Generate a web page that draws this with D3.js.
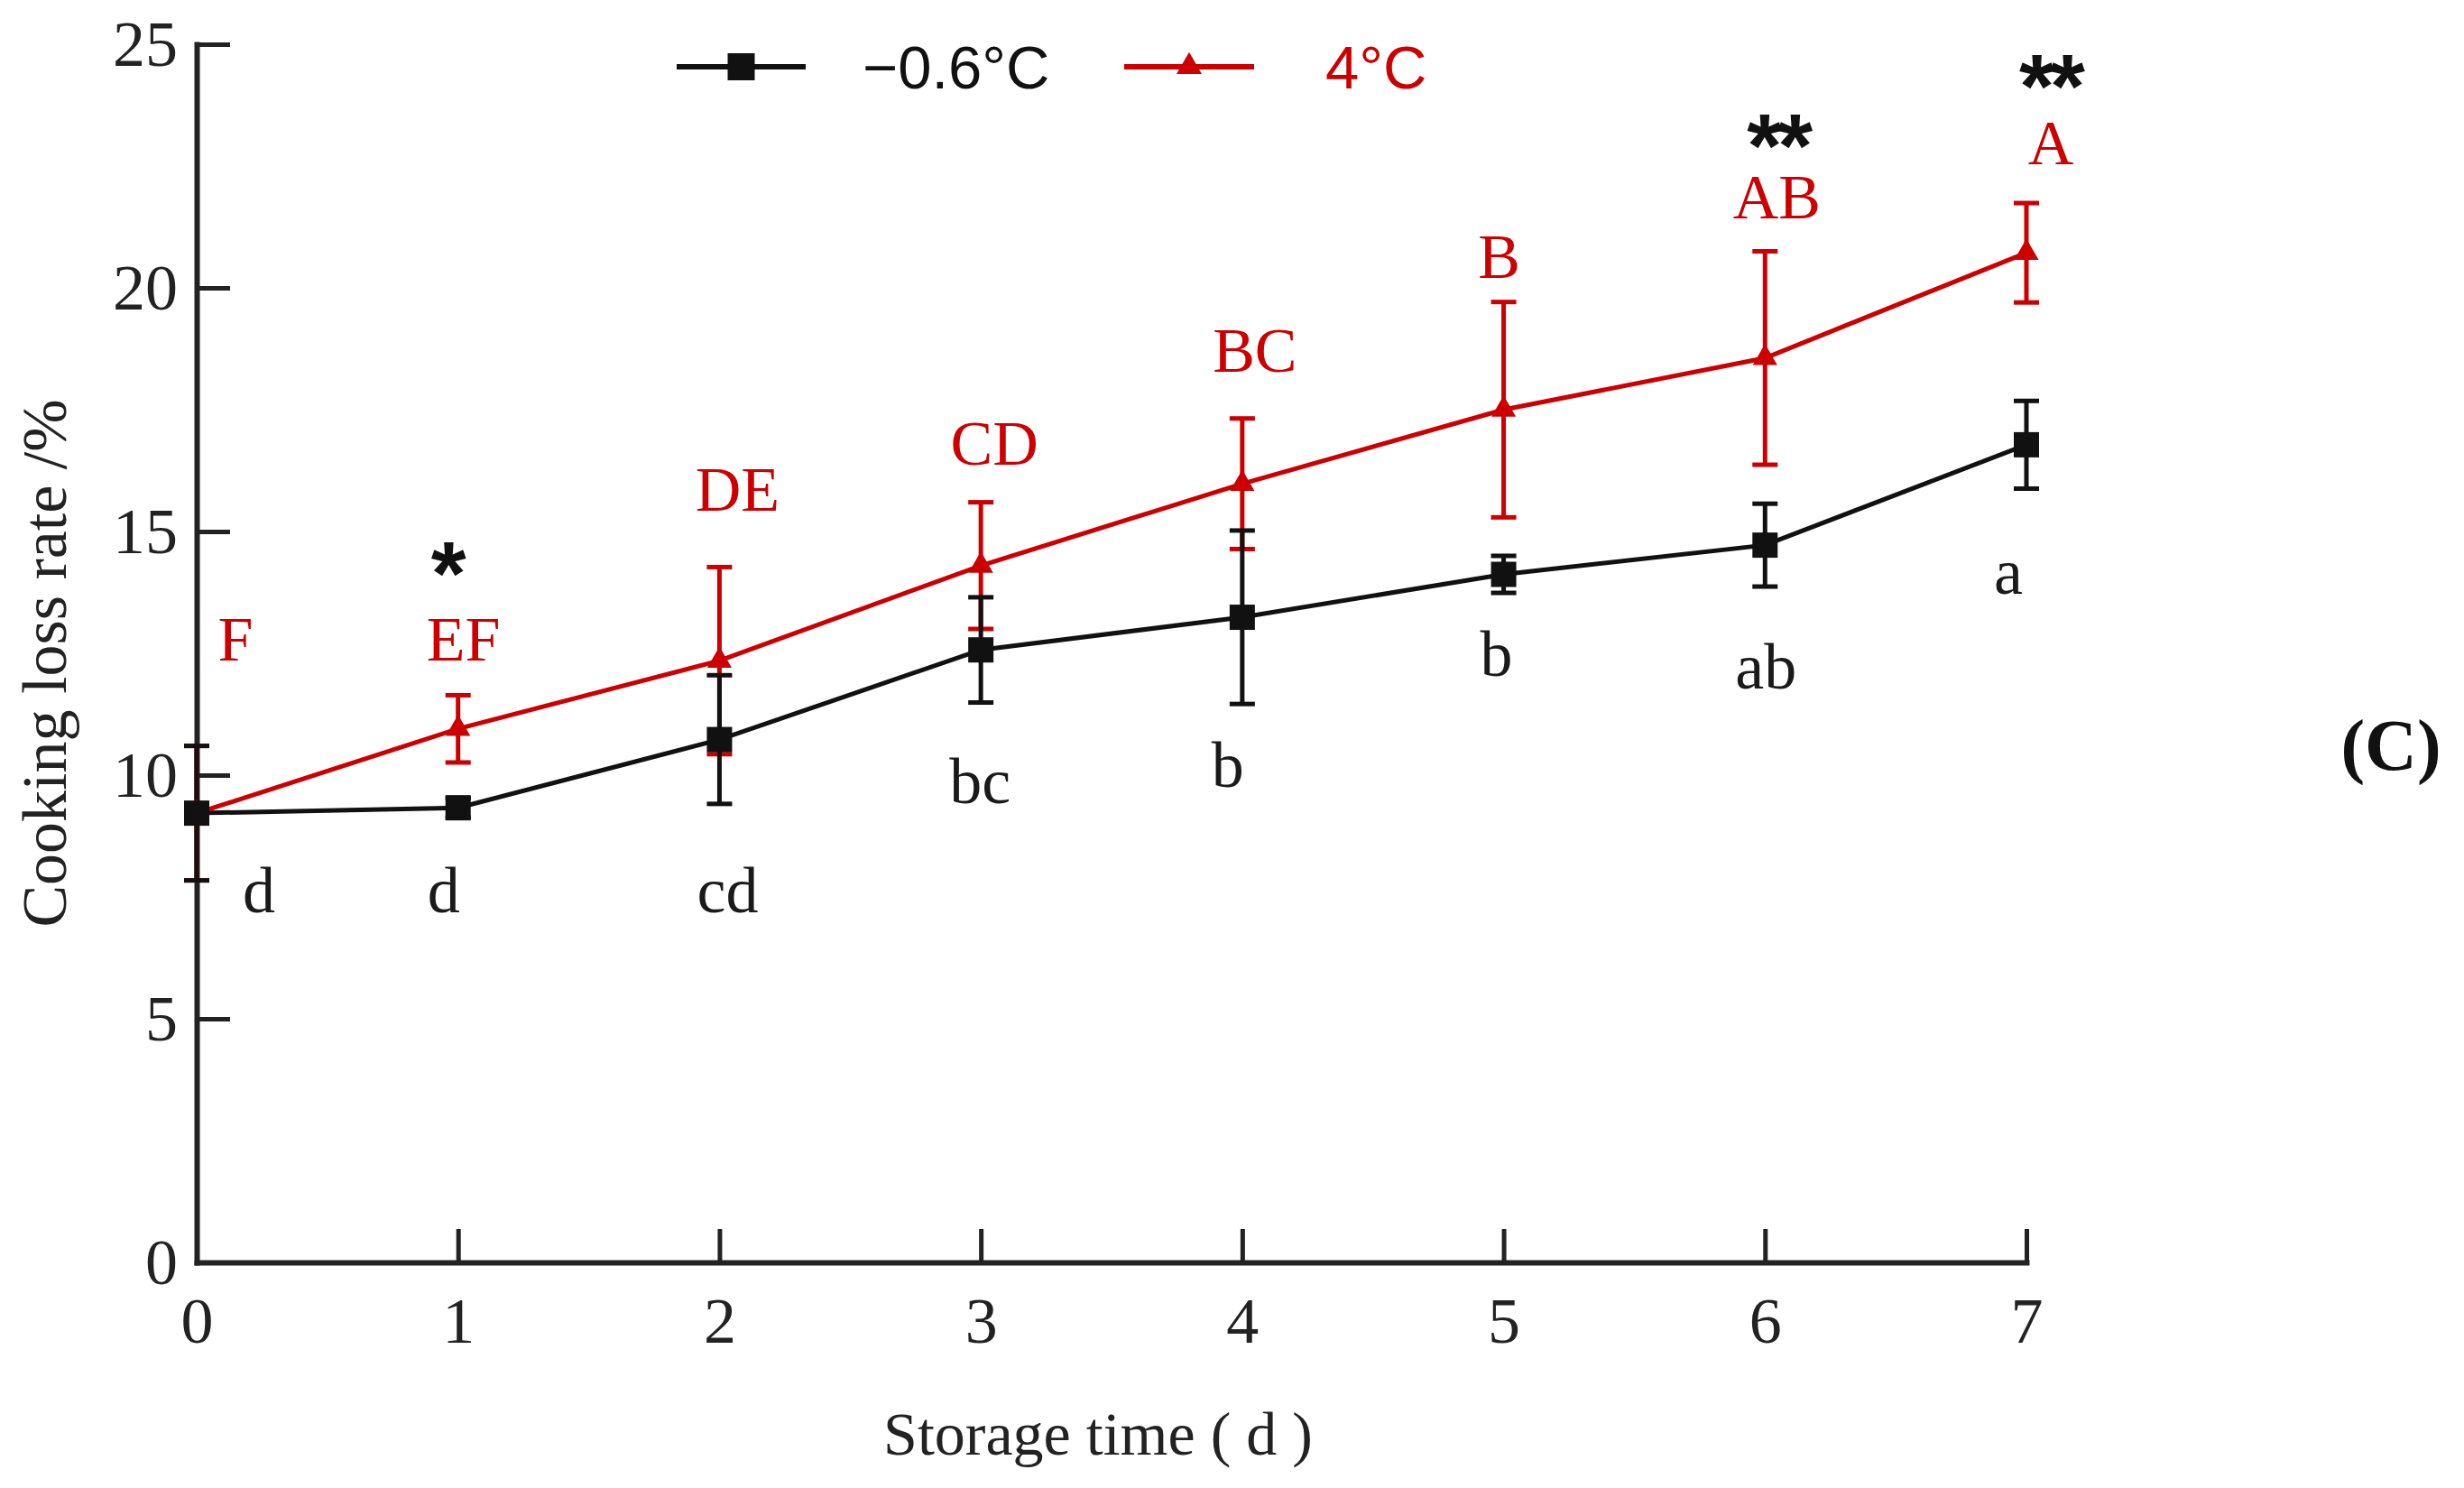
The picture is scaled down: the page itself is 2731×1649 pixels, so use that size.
<!DOCTYPE html>
<html>
<head>
<meta charset="utf-8">
<script src="https://cdn.jsdelivr.net/npm/d3@7"></script>
<style>
  html, body { margin: 0; padding: 0; background: #fff; }
  svg { display: block; }
</style>
</head>
<body>
<div id="chart"></div>
<script>
// Data
const days = [0, 1, 2, 3, 4, 5, 6, 7];
const coldMean = [9.22, 9.33, 10.73, 12.57, 13.24, 14.12, 14.72, 16.78];   // -0.6°C
const coldSD   = [1.38, 0.20, 1.32, 1.08, 1.78, 0.38, 0.85, 0.90];
const warmMean = [9.22, 10.95, 12.35, 14.30, 15.98, 17.50, 18.56, 20.72];   // 4°C
const warmSD   = [1.38, 0.69, 1.92, 1.30, 1.34, 2.21, 2.19, 1.02];
const coldLetters = ["d", "d", "cd", "bc", "b", "b", "ab", "a"];
const warmLetters = ["F", "EF", "DE", "CD", "BC", "B", "AB", "A"];
const sigMarks = ["", "*", "", "", "", "", "**", "**"];
const yTicks = [0, 5, 10, 15, 20, 25];
const seriesNames = ["\u22120.6\u00B0C", "4\u00B0C"];

// label anchors (y in data units, dx in px)
const coldLabelY = [7.19, 7.19, 7.19, 9.43, 9.76, 12.04, 11.78, 13.72];
const coldLabelDx = [69, -16, 9, -1, -16, -8, 1, -20];
const warmLabelY = [12.35, 12.35, 15.43, 16.37, 18.28, 20.21, 21.43, 22.54];
const warmLabelDx = [43, 6, 20, 15, 14, -5, 13, 27];
const sigY = [0, 13.5, 0, 0, 0, 0, 22.28, 23.5];
const sigDx = [0, -13, 0, 0, 0, 0, 14, 26];

const W = 2731, H = 1649;
const RED = "#cc0000", BLACK = "#111";
const serif = "'Liberation Serif', 'Times New Roman', serif";
const sans = "'Liberation Sans', Arial, sans-serif";

const svg = d3.select("#chart").append("svg")
    .attr("width", W).attr("height", H)
    .attr("viewBox", `0 0 ${W} ${H}`);

const x = d3.scaleLinear().domain([0, 7]).range([218, 2246]);
const y = d3.scaleLinear().domain([0, 25]).range([1399, 49]);

// axes
const xAxis = d3.axisBottom(x).tickValues(days).tickFormat(d3.format("d"))
    .tickSizeInner(-37).tickSizeOuter(0).tickPadding(38);
const yAxis = d3.axisLeft(y).tickValues(yTicks).tickFormat(d3.format("d"))
    .tickSizeInner(-37).tickSizeOuter(0).tickPadding(21);

const gx = svg.append("g").attr("transform", `translate(0,${y(0)})`).call(xAxis);
const gy = svg.append("g").attr("transform", `translate(${x(0)},0)`).call(yAxis);
[gx, gy].forEach(g => {
    g.select(".domain").attr("stroke", "#222").attr("stroke-width", 6).attr("stroke-linecap", "square");
    g.selectAll(".tick line").attr("stroke", "#222").attr("stroke-width", 5);
    g.selectAll(".tick text").attr("fill", "#222")
        .style("font-family", serif).style("font-size", "72px");
});

// axis titles
svg.append("text")
    .attr("transform", "translate(73,735) rotate(-90)")
    .attr("text-anchor", "middle")
    .style("font-family", serif).style("font-size", "70px").attr("fill", "#222")
    .text("Cooking loss rate /%");

svg.append("text")
    .attr("x", 1217).attr("y", 1612)
    .attr("text-anchor", "middle")
    .style("font-family", serif).style("font-size", "68px").attr("fill", "#222")
    .text("Storage time ( d )");

svg.append("text")
    .attr("x", 2650).attr("y", 853)
    .attr("text-anchor", "middle")
    .style("font-family", serif).style("font-size", "80px").style("font-weight", "bold")
    .attr("fill", "#111")
    .text("(C)");

// series
const series = [
    { mean: coldMean, sd: coldSD, color: BLACK, symbol: d3.symbolSquare, size: 784 },
    { mean: warmMean, sd: warmSD, color: RED, symbol: d3.symbolTriangle, size: 320 }
];

const line = d3.line().x((d, i) => x(days[i])).y(d => y(d));

// error bars (red underneath black)
[series[1], series[0]].forEach(s => {
    const g = svg.append("g").attr("stroke", s.color).attr("stroke-width", 5);
    days.forEach((d, i) => {
        const hi = y(s.mean[i] + s.sd[i]), lo = y(s.mean[i] - s.sd[i]), cx = x(d);
        g.append("line").attr("x1", cx).attr("x2", cx).attr("y1", hi).attr("y2", lo);
        g.append("line").attr("x1", cx - 14).attr("x2", cx + 14).attr("y1", hi).attr("y2", hi);
        g.append("line").attr("x1", cx - 14).attr("x2", cx + 14).attr("y1", lo).attr("y2", lo);
    });
});

// lines
series.forEach(s => {
    svg.append("path").datum(s.mean)
        .attr("d", line).attr("fill", "none")
        .attr("stroke", s.color).attr("stroke-width", 5);
});

// markers (red first so black square sits on top at day 0)
[series[1], series[0]].forEach(s => {
    svg.append("g").selectAll("path")
        .data(s.mean).join("path")
        .attr("transform", (d, i) => `translate(${x(days[i])},${y(d)})`)
        .attr("d", d3.symbol(s.symbol, s.size))
        .attr("fill", s.color);
});

// significance letters
svg.append("g").selectAll("text").data(coldLetters).join("text")
    .attr("x", (d, i) => x(days[i]) + coldLabelDx[i])
    .attr("y", (d, i) => y(coldLabelY[i]))
    .attr("text-anchor", "middle")
    .style("font-family", serif).style("font-size", "72px").attr("fill", "#1a1a1a")
    .text(d => d);

svg.append("g").selectAll("text").data(warmLetters).join("text")
    .attr("x", (d, i) => x(days[i]) + warmLabelDx[i])
    .attr("y", (d, i) => y(warmLabelY[i]))
    .attr("text-anchor", "middle")
    .style("font-family", serif).style("font-size", "70px").attr("fill", RED)
    .text(d => d);

// asterisks between the two treatments
const stars = sigMarks.map((m, i) => ({ m, i })).filter(d => d.m !== "");
svg.append("g").selectAll("text").data(stars).join("text")
    .attr("x", d => x(days[d.i]) + sigDx[d.i])
    .attr("y", d => y(sigY[d.i]))
    .attr("text-anchor", "middle")
    .style("font-family", sans).style("font-size", "100px").style("font-weight", "bold")
    .style("letter-spacing", "-5px")
    .attr("fill", "#111")
    .text(d => d.m);

// legend
const legend = [
    { name: seriesNames[0], color: BLACK, symbol: d3.symbolSquare, size: 900, x0: 750, x1: 893, tx: 956 },
    { name: seriesNames[1], color: RED, symbol: d3.symbolTriangle, size: 340, x0: 1246, x1: 1390, tx: 1469 }
];
const ly = 74;
legend.forEach(l => {
    const g = svg.append("g");
    g.append("line").attr("x1", l.x0).attr("x2", l.x1).attr("y1", ly).attr("y2", ly)
        .attr("stroke", l.color).attr("stroke-width", 6);
    g.append("path").attr("transform", `translate(${(l.x0 + l.x1) / 2},${ly})`)
        .attr("d", d3.symbol(l.symbol, l.size)).attr("fill", l.color);
    g.append("text").attr("x", l.tx).attr("y", 98)
        .style("font-family", sans).style("font-size", "67px").attr("fill", l.color)
        .text(l.name);
});
</script>
</body>
</html>
